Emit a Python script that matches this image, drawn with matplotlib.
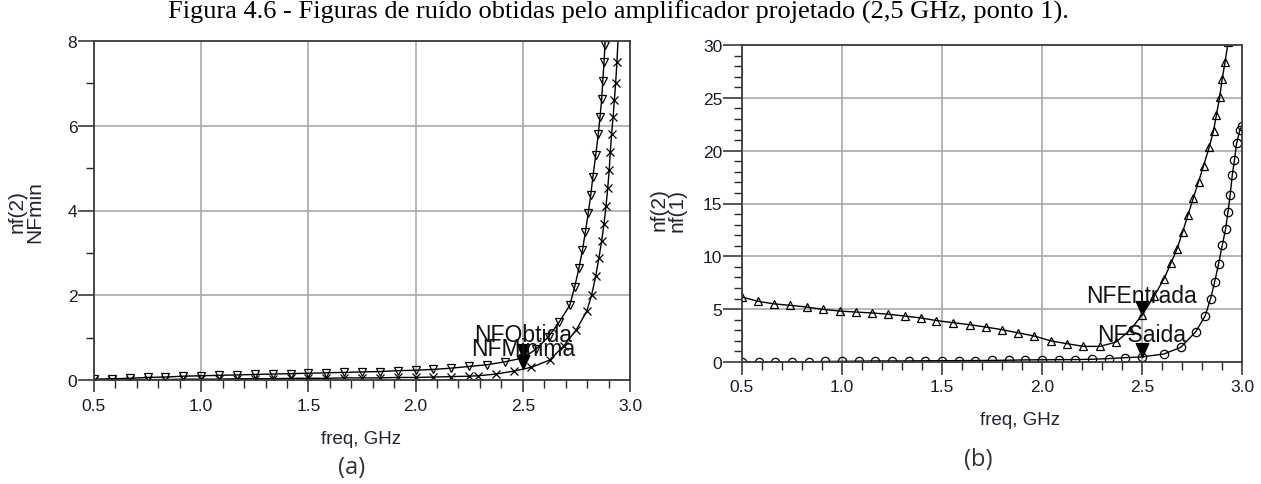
import matplotlib
matplotlib.use("Agg")
import matplotlib.pyplot as plt
import numpy as np
from matplotlib.ticker import MultipleLocator

# (a) noise figures, frequency in GHz
freq_a_obt = [0.5, 0.583, 0.667, 0.75, 0.833, 0.917, 1.0, 1.083, 1.167, 1.25, 1.333,
              1.417, 1.5, 1.583, 1.667, 1.75, 1.833, 1.917, 2.0, 2.083, 2.167, 2.25,
              2.333, 2.417, 2.5, 2.56, 2.62, 2.67, 2.719, 2.742, 2.762, 2.778, 2.792,
              2.805, 2.817, 2.827, 2.840, 2.852, 2.860, 2.868, 2.873, 2.879, 2.883, 2.887]
nf_obtida = [0.02, 0.03, 0.04, 0.06, 0.07, 0.09, 0.10, 0.11, 0.12, 0.13, 0.14,
             0.15, 0.16, 0.17, 0.18, 0.19, 0.20, 0.22, 0.23, 0.25, 0.28, 0.32,
             0.36, 0.43, 0.52, 0.72, 1.02, 1.37, 1.76, 2.2, 2.64, 3.06, 3.5,
             3.93, 4.37, 4.8, 5.3, 5.8, 6.2, 6.63, 7.06, 7.5, 7.9, 8.3]

freq_a_min = [0.5, 0.583, 0.667, 0.75, 0.833, 0.917, 1.0, 1.083, 1.167, 1.25, 1.333,
              1.417, 1.5, 1.583, 1.667, 1.75, 1.833, 1.917, 2.0, 2.083, 2.167, 2.25,
              2.292, 2.375, 2.458, 2.54, 2.625, 2.69, 2.749, 2.798, 2.821, 2.840,
              2.855, 2.868, 2.879, 2.888, 2.896, 2.903, 2.908, 2.914, 2.921, 2.927,
              2.933, 2.939, 2.947]
nf_minima = [0.0, 0.0, 0.01, 0.01, 0.01, 0.02, 0.02, 0.02, 0.03, 0.03, 0.03,
             0.04, 0.04, 0.04, 0.05, 0.05, 0.05, 0.06, 0.06, 0.07, 0.08, 0.09,
             0.10, 0.14, 0.21, 0.30, 0.47, 0.80, 1.18, 1.62, 2.0, 2.45,
             2.88, 3.29, 3.69, 4.1, 4.52, 4.95, 5.38, 5.8, 6.2, 6.6,
             7.0, 7.5, 8.3]

# (b) input / output noise figures
freq_b_in = [0.5, 0.579, 0.660, 0.742, 0.825, 0.906, 0.989, 1.068, 1.151, 1.231, 1.314,
             1.397, 1.472, 1.557, 1.638, 1.718, 1.801, 1.880, 1.961, 2.044, 2.126,
             2.207, 2.290, 2.369, 2.44, 2.5, 2.56, 2.61, 2.645, 2.675, 2.704, 2.73,
             2.757, 2.783, 2.808, 2.836, 2.858, 2.872, 2.888, 2.901, 2.915, 2.931]
nf_entrada = [6.15, 5.75, 5.5, 5.36, 5.2, 4.98, 4.82, 4.73, 4.64, 4.52, 4.35,
              4.16, 3.92, 3.72, 3.53, 3.31, 3.06, 2.76, 2.46, 2.0, 1.73,
              1.48, 1.48, 1.88, 3.0, 4.45, 6.2, 7.88, 9.36, 10.7, 12.35, 13.93,
              15.54, 17.08, 18.59, 20.33, 21.9, 23.38, 25.05, 26.79, 28.36, 30.3]

freq_b_out = [0.5, 0.583, 0.667, 0.75, 0.833, 0.917, 1.0, 1.083, 1.167, 1.25, 1.333,
              1.417, 1.5, 1.583, 1.667, 1.75, 1.833, 1.917, 2.0, 2.083, 2.167, 2.25,
              2.333, 2.417, 2.5, 2.61, 2.694, 2.769, 2.816, 2.843, 2.863, 2.883,
              2.902, 2.918, 2.93, 2.941, 2.951, 2.962, 2.973, 2.99, 3.0]
nf_saida = [0.0, 0.0, 0.0, 0.0, 0.02, 0.05, 0.06, 0.08, 0.1, 0.1, 0.1,
            0.12, 0.12, 0.13, 0.14, 0.15, 0.17, 0.2, 0.21, 0.22, 0.23, 0.26,
            0.32, 0.41, 0.48, 0.76, 1.39, 2.87, 4.38, 6.0, 7.56, 9.3,
            11.1, 12.6, 14.2, 15.85, 17.65, 19.07, 20.7, 22.0, 22.3]

marker_freq = 2.5

plt.rcParams["font.family"] = ["Liberation Sans", "DejaVu Sans"]

fig = plt.figure(figsize=(12.61, 4.85), dpi=100)
ax_a = fig.add_axes([94 / 1261, 1 - 381 / 485, 536 / 1261, 339 / 485])
ax_b = fig.add_axes([742 / 1261, 1 - 363 / 485, 500 / 1261, 317 / 485])

# ADS style marker: filled triangle with its tip on the point
tip = [(0, 0), (-0.45, 1), (0.45, 1), (0, 0)]


def style_axes(ax, ymax, ystep, yminor, ymaj_len, xmaj_len, xpad):
    ax.set_xlim(0.5, 3.0)
    ax.set_ylim(0, ymax)
    ax.xaxis.set_major_locator(MultipleLocator(0.5))
    ax.xaxis.set_minor_locator(MultipleLocator(0.1))
    ax.yaxis.set_major_locator(MultipleLocator(ystep))
    ax.yaxis.set_minor_locator(MultipleLocator(yminor))
    ax.xaxis.set_major_formatter(matplotlib.ticker.FormatStrFormatter("%.1f"))
    ax.grid(True, which="major", color="#a9a9a9", lw=1.2)
    ax.set_axisbelow(True)
    for s in ax.spines.values():
        s.set_color("#3c3c3c")
        s.set_linewidth(1.3)
    ax.tick_params(axis="x", which="major", direction="out", length=xmaj_len,
                   width=1.1, color="#2a2a2a", pad=xpad, labelsize=12.5)
    ax.tick_params(axis="x", which="minor", direction="out", length=5.5,
                   width=1.0, color="#2a2a2a")
    ax.tick_params(axis="y", which="major", direction="out", length=ymaj_len,
                   width=1.1, color="#2a2a2a", pad=0.5, labelsize=12.5)
    ax.tick_params(axis="y", which="minor", direction="out", length=5.5,
                   width=1.0, color="#2a2a2a")
    for lab in ax.get_xticklabels() + ax.get_yticklabels():
        lab.set_color("#1a1a2a")


# (a)
ax_a.plot(freq_a_obt, nf_obtida, color="black", lw=1.0, marker="v", ms=6,
          mfc="none", mec="black", mew=0.9)
ax_a.plot(freq_a_min, nf_minima, color="black", lw=1.0, marker="x", ms=6,
          mec="black", mew=0.9)
style_axes(ax_a, 8, 2, 1, 11.5, 8.6, 4.5)

for fx, fy, name, dy in [(freq_a_obt, nf_obtida, "NFObtida", 17),
                         (freq_a_min, nf_minima, "NFMinima", 15)]:
    yv = np.interp(marker_freq, fx, fy)
    ax_a.plot([marker_freq], [yv], marker=tip, ms=20, color="black", zorder=5)
    ax_a.annotate(name, (marker_freq, yv), xytext=(0, dy), textcoords="offset points",
                  ha="center", va="center", fontsize=16.5, color="#111111", zorder=6)

# (b)
ax_b.plot(freq_b_in, nf_entrada, color="black", lw=1.0, marker="^", ms=6,
          mfc="none", mec="black", mew=0.9)
ax_b.plot(freq_b_out, nf_saida, color="black", lw=1.0, marker="o", ms=6,
          mfc="none", mec="black", mew=0.9)
style_axes(ax_b, 30, 5, 1, 13.7, 9.4, 2.5)

for fx, fy, name, dy in [(freq_b_in, nf_entrada, "NFEntrada", 14),
                         (freq_b_out, nf_saida, "NFSaida", 16)]:
    yv = np.interp(marker_freq, fx, fy)
    ax_b.plot([marker_freq], [yv], marker=tip, ms=20, color="black", zorder=5)
    ax_b.annotate(name, (marker_freq, yv), xytext=(0, dy), textcoords="offset points",
                  ha="center", va="center", fontsize=16.5, color="#111111", zorder=6)

# axis labels
fig.text(26 / 1261, 1 - 212 / 485, "nf(2)\nNFmin", rotation=90, ha="center",
         va="center", fontsize=15, linespacing=0.9, color="#222233")
fig.text(668 / 1261, 1 - 210 / 485, "nf(2)\nnf(1)", rotation=90, ha="center",
         va="center", fontsize=15, linespacing=0.9, color="#222233")
fig.text(361 / 1261, 1 - 440 / 485, "freq, GHz", ha="center", va="center",
         fontsize=13.5, color="#222233")
fig.text(1020 / 1261, 1 - 421 / 485, "freq, GHz", ha="center", va="center",
         fontsize=13.5, color="#222233")
fig.text(352 / 1261, 1 - 468 / 485, "(a)", ha="center", va="center",
         fontsize=17, family=["Open Sans", "DejaVu Sans"], color="#333333")
fig.text(978 / 1261, 1 - 460 / 485, "(b)", ha="center", va="center",
         fontsize=17, family=["Open Sans", "DejaVu Sans"], color="#333333")

fig.text(618 / 1261, 1 - 12 / 485,
         "Figura 4.6 - Figuras de ruído obtidas pelo amplificador projetado (2,5 GHz, ponto 1).",
         ha="center", va="center", fontsize=19,
         family=["Liberation Serif", "DejaVu Serif"], color="black")

fig.savefig("out.png", dpi=100)
